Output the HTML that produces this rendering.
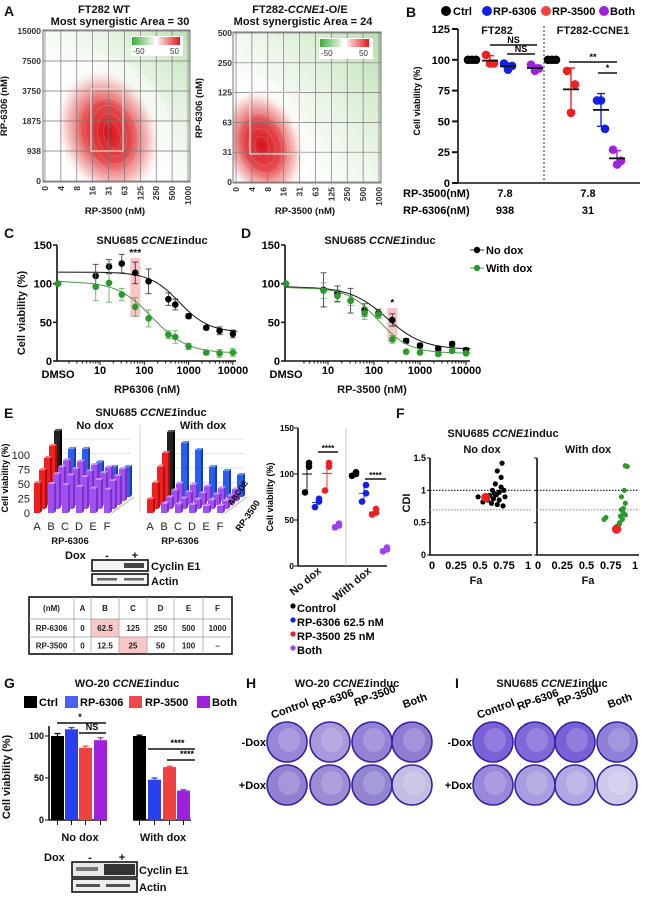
<!DOCTYPE html>
<html><head><meta charset="utf-8">
<style>
html,body{margin:0;padding:0;background:#fff;}
svg{display:block;font-family:"Liberation Sans",Arial,sans-serif;}
.t{font-weight:bold;font-size:11px;fill:#111;}
.s{font-weight:bold;font-size:9.5px;fill:#111;}
.lt{font-weight:bold;font-size:14px;fill:#111;}
.tk{font-weight:bold;font-size:9px;fill:#222;}
.ax{stroke:#111;stroke-width:1.6;fill:none;}
</style></head>
<body>
<svg id="fig" width="646" height="899" viewBox="0 0 646 899" xmlns="http://www.w3.org/2000/svg">
<defs>
 <radialGradient id="redBlob" cx="0.5" cy="0.5" r="0.5">
  <stop offset="0" stop-color="#d8101a" stop-opacity="1"/>
  <stop offset="0.45" stop-color="#e2383c" stop-opacity="0.9"/>
  <stop offset="0.75" stop-color="#f09090" stop-opacity="0.55"/>
  <stop offset="1" stop-color="#ffffff" stop-opacity="0"/>
 </radialGradient>
 <linearGradient id="greenFade" x1="1" y1="0" x2="0.35" y2="0.65">
  <stop offset="0" stop-color="#9fd092" stop-opacity="0.7"/>
  <stop offset="1" stop-color="#dff0da" stop-opacity="0"/>
 </linearGradient>
 <linearGradient id="greenFade2" x1="1" y1="0" x2="0.15" y2="0.75">
  <stop offset="0" stop-color="#9fd092" stop-opacity="0.75"/>
  <stop offset="1" stop-color="#e6f3e2" stop-opacity="0"/>
 </linearGradient>
 <linearGradient id="legG" x1="0" x2="1"><stop offset="0" stop-color="#3cae3a"/><stop offset="1" stop-color="#eef7ea"/></linearGradient>
 <linearGradient id="legR" x1="0" x2="1"><stop offset="0" stop-color="#fde6e6"/><stop offset="1" stop-color="#e01818"/></linearGradient>
 <clipPath id="clipA1"><rect x="43" y="30" width="147" height="152"/></clipPath>
 <clipPath id="clipA2"><rect x="233" y="32" width="148" height="151"/></clipPath>
</defs>

<!-- Panel A left -->
<text class="lt" x="4" y="16">A</text>
<text class="t" x="104" y="13" text-anchor="middle">FT282 WT</text>
<text class="t" x="120" y="25" text-anchor="middle">Most synergistic Area = 30</text>
<g clip-path="url(#clipA1)">
 <rect x="43" y="30" width="147" height="152" fill="#fff"/>
 <rect x="43" y="30" width="147" height="152" fill="url(#greenFade)"/>
 <ellipse cx="108" cy="130" rx="62" ry="78" fill="#fff" opacity="0.4" transform="rotate(-25 108 130)"/>
 <ellipse cx="108" cy="133" rx="52" ry="68" fill="url(#redBlob)" transform="rotate(-20 108 133)"/>
 <g fill="none" stroke="#fff" stroke-opacity="0.2" stroke-width="0.7" transform="rotate(-15 112 135)">
  <ellipse cx="112" cy="135" rx="8" ry="14"/><ellipse cx="112" cy="135" rx="14" ry="22"/><ellipse cx="112" cy="135" rx="20" ry="30"/><ellipse cx="112" cy="135" rx="26" ry="38"/>
 </g>
 <g id="gridA1"></g>
 <rect x="91" y="89" width="32" height="62" fill="none" stroke="#f6d2d2" stroke-width="1.2"/>
 <rect x="131" y="36" width="52" height="20" fill="#fff"/>
 <rect x="132" y="37" width="22" height="8" fill="url(#legG)"/>
 <rect x="158" y="37" width="22" height="8" fill="url(#legR)"/>
 <text x="133" y="54" font-size="8" fill="#333">-50</text><text x="170" y="54" font-size="8" fill="#333">50</text>
</g>
<rect x="43" y="30" width="147" height="152" fill="none" stroke="#555" stroke-width="0.8"/>
<g id="ticksA1"></g>
<text class="s" x="7" y="106" text-anchor="middle" transform="rotate(-90 7 106)">RP-6306 (nM)</text>
<text class="s" x="115" y="214" text-anchor="middle">RP-3500 (nM)</text>

<!-- Panel A right -->
<text class="t" x="300" y="13" text-anchor="middle">FT282-<tspan font-style="italic">CCNE1</tspan>-O/E</text>
<text class="t" x="303" y="25" text-anchor="middle">Most synergistic Area = 24</text>
<g clip-path="url(#clipA2)">
 <rect x="233" y="32" width="148" height="151" fill="#fff"/>
 <rect x="233" y="32" width="148" height="151" fill="url(#greenFade2)"/>
 <ellipse cx="258" cy="140" rx="50" ry="70" fill="#fff" opacity="0.4" transform="rotate(-25 258 140)"/>
 <ellipse cx="262" cy="145" rx="42" ry="58" fill="url(#redBlob)" transform="rotate(-18 262 145)"/>
 <g fill="none" stroke="#fff" stroke-opacity="0.2" stroke-width="0.7" transform="rotate(-15 262 147)">
  <ellipse cx="262" cy="147" rx="7" ry="11"/><ellipse cx="262" cy="147" rx="13" ry="19"/><ellipse cx="262" cy="147" rx="19" ry="27"/><ellipse cx="262" cy="147" rx="25" ry="35"/>
 </g>
 <g id="gridA2"></g>
 <rect x="250" y="92" width="49" height="62" fill="none" stroke="#f6d2d2" stroke-width="1.2"/>
 <rect x="319" y="38" width="54" height="21" fill="#fff"/>
 <rect x="320" y="39" width="22" height="8" fill="url(#legG)"/>
 <rect x="347" y="39" width="22" height="8" fill="url(#legR)"/>
 <text x="321" y="56" font-size="8" fill="#333">-50</text><text x="359" y="56" font-size="8" fill="#333">50</text>
</g>
<rect x="233" y="32" width="148" height="151" fill="none" stroke="#555" stroke-width="0.8"/>
<g id="ticksA2"></g>
<text class="s" x="202" y="108" text-anchor="middle" transform="rotate(-90 202 108)">RP-6306 (nM)</text>
<text class="s" x="305" y="214" text-anchor="middle">RP-3500 (nM)</text>

<!-- Panel B -->
<text class="lt" x="406" y="17">B</text>
<g font-weight="bold" font-size="11">
 <circle cx="446" cy="11" r="5" fill="#000"/><text x="453" y="15">Ctrl</text>
 <circle cx="487" cy="11" r="5" fill="#1020e8"/><text x="493" y="15">RP-6306</text>
 <circle cx="546" cy="11" r="5" fill="#f04040"/><text x="552" y="15">RP-3500</text>
 <circle cx="604" cy="11" r="5" fill="#a020e0"/><text x="610" y="15">Both</text>
</g>
<text class="t" x="497" y="34" text-anchor="middle">FT282</text>
<text class="t" x="593" y="34" text-anchor="middle">FT282-CCNE1</text>
<text x="420" y="101" font-size="9" font-weight="bold" text-anchor="middle" transform="rotate(-90 420 101)">Cell viability (%)</text>
<g id="panelB"></g>
<g font-weight="bold" font-size="11">
 <text x="403" y="197">RP-3500(nM)</text><text x="505" y="197" text-anchor="middle">7.8</text><text x="588" y="197" text-anchor="middle">7.8</text>
 <text x="403" y="214">RP-6306(nM)</text><text x="505" y="214" text-anchor="middle">938</text><text x="588" y="214" text-anchor="middle">31</text>
</g>

<!-- Panel C, D -->
<text class="lt" x="4" y="238">C</text>
<text class="t" x="152" y="244" text-anchor="middle">SNU685 <tspan font-style="italic">CCNE1</tspan>induc</text>
<text class="t" x="25" y="313" text-anchor="middle" transform="rotate(-90 25 313)">Cell viability (%)</text>
<text class="t" x="147" y="393" text-anchor="middle">RP6306 (nM)</text>
<text class="lt" x="241" y="238">D</text>
<text class="t" x="380" y="244" text-anchor="middle">SNU685 <tspan font-style="italic">CCNE1</tspan>induc</text>
<text class="t" x="372" y="393" text-anchor="middle">RP-3500 (nM)</text>
<g font-weight="bold" font-size="11">
 <line x1="470" y1="250" x2="484" y2="250" stroke="#333"/><circle cx="477" cy="250" r="3.2" fill="#000"/><text x="486" y="254">No dox</text>
 <line x1="470" y1="268" x2="484" y2="268" stroke="#5a9a5a"/><circle cx="477" cy="268" r="3.2" fill="#2a9a2a"/><text x="486" y="272">With dox</text>
</g>
<g id="panelCD"></g>

<!-- Panel E -->
<text class="lt" x="4" y="418">E</text>
<text class="t" x="151" y="416" text-anchor="middle">SNU685 <tspan font-style="italic">CCNE1</tspan>induc</text>
<text class="t" x="95" y="429" text-anchor="middle">No dox</text>
<text class="t" x="203" y="429" text-anchor="middle">With dox</text>
<text x="8" y="478" font-size="9" font-weight="bold" text-anchor="middle" transform="rotate(-90 8 478)">Cell viability (%)</text>
<g id="bars3d"></g>
<text class="s" x="70" y="544" text-anchor="middle">RP-6306</text>
<text class="s" x="180" y="544" text-anchor="middle">RP-6306</text>
<text x="232" y="506" font-size="8" font-weight="bold" transform="rotate(-55 232 506)">ABCDE</text>
<text x="240" y="532" font-size="9" font-weight="bold" transform="rotate(-55 240 532)">RP-3500</text>

<g>
 <text class="t" x="65" y="559">Dox</text><text class="t" x="107" y="559" text-anchor="middle">-</text><text class="t" x="135" y="559" text-anchor="middle">+</text>
 <rect x="92" y="560" width="56" height="11" fill="#f4f4f4" stroke="#111" stroke-width="1.6"/>
 <rect x="124" y="563" width="20" height="5" fill="#333" opacity="0.9"/>
 <rect x="92" y="574" width="56" height="11" fill="#f4f4f4" stroke="#111" stroke-width="1.6"/>
 <rect x="97" y="578" width="20" height="2.5" fill="#666"/><rect x="124" y="578" width="20" height="2.5" fill="#666"/>
 <text class="t" x="151" y="570">Cyclin E1</text><text class="t" x="151" y="585">Actin</text>
</g>
<g id="doseTable"></g>

<text x="273" y="497" font-size="9" font-weight="bold" text-anchor="middle" transform="rotate(-90 273 497)">Cell viability (%)</text>
<g id="panelEdot"></g>
<text class="t" x="322" y="572" text-anchor="end" transform="rotate(-40 322 572)">No dox</text>
<text class="t" x="372" y="572" text-anchor="end" transform="rotate(-40 372 572)">With dox</text>
<g font-weight="bold" font-size="11">
 <circle cx="293" cy="606" r="2.6" fill="#000"/><text x="297" y="612">Control</text>
 <circle cx="293" cy="620" r="2.6" fill="#1020e8"/><text x="297" y="626">RP-6306 62.5 nM</text>
 <circle cx="293" cy="634" r="2.6" fill="#f02020"/><text x="297" y="640">RP-3500 25 nM</text>
 <circle cx="293" cy="648" r="2.6" fill="#a040f0"/><text x="297" y="654">Both</text>
</g>

<!-- Panel F -->
<text class="lt" x="396" y="418">F</text>
<text class="t" x="503" y="437" text-anchor="middle">SNU685 <tspan font-style="italic">CCNE1</tspan>induc</text>
<text class="t" x="482" y="453" text-anchor="middle">No dox</text>
<text class="t" x="588" y="453" text-anchor="middle">With dox</text>
<text class="t" x="410" y="503" text-anchor="middle" transform="rotate(-90 410 503)">CDI</text>
<text class="t" x="476" y="584" text-anchor="middle">Fa</text>
<text class="t" x="588" y="584" text-anchor="middle">Fa</text>
<g id="panelF"></g>

<!-- Panel G -->
<text class="lt" x="4" y="688">G</text>
<text class="t" x="127" y="687" text-anchor="middle">WO-20 <tspan font-style="italic">CCNE1</tspan>induc</text>
<g font-weight="bold" font-size="11">
 <rect x="24" y="696" width="13" height="12" fill="#000"/><text x="39" y="706">Ctrl</text>
 <rect x="65" y="696" width="13" height="12" fill="#4a60f0"/><text x="80" y="706">RP-6306</text>
 <rect x="129" y="696" width="13" height="12" fill="#f04848"/><text x="145" y="706">RP-3500</text>
 <rect x="197" y="696" width="13" height="12" fill="#a020e0"/><text x="212" y="706">Both</text>
</g>
<text class="t" x="10" y="777" text-anchor="middle" transform="rotate(-90 10 777)">Cell viability (%)</text>
<g id="panelG"></g>
<text class="t" x="80" y="841" text-anchor="middle" font-size="12">No dox</text>
<text class="t" x="163" y="841" text-anchor="middle" font-size="12">With dox</text>
<g>
 <text class="t" x="44" y="861">Dox</text><text class="t" x="90" y="861" text-anchor="middle">-</text><text class="t" x="122" y="861" text-anchor="middle">+</text>
 <rect x="72" y="862" width="65" height="15" fill="#e8e8e8" stroke="#111" stroke-width="1.6"/>
 <rect x="76" y="867" width="22" height="4" fill="#777"/><rect x="104" y="864" width="31" height="11" fill="#333"/>
 <rect x="72" y="879" width="65" height="13" fill="#eee" stroke="#111" stroke-width="1.6"/>
 <rect x="76" y="884" width="24" height="3" fill="#555"/><rect x="106" y="884" width="24" height="3" fill="#555"/>
 <text class="t" x="139" y="874">Cyclin E1</text><text class="t" x="139" y="891">Actin</text>
</g>

<!-- Panels H, I -->
<text class="lt" x="246" y="688">H</text>
<text class="t" x="347" y="687" text-anchor="middle">WO-20 <tspan font-style="italic">CCNE1</tspan>induc</text>
<text class="lt" x="455" y="688">I</text>
<text class="t" x="552" y="687" text-anchor="middle">SNU685 <tspan font-style="italic">CCNE1</tspan>induc</text>
<g id="plates"></g>
</svg>

<script>
// ---------- DATA ----------
const heatXTicks = ['0','4','8','16','31','63','125','250','500','1000'];
const heatWtYTicks = ['0','938','1875','3750','7500','15000'];
const heatOeYTicks = ['0','31','63','125','250','500'];

const bGroups = ['Ctrl','RP-3500','RP-6306','Both','Ctrl','RP-3500','RP-6306','Both'];
const bValues = [[100,100,100],[104,97,97],[97,92,95],[96,91,93],[100,100,100],[91,57,80],[67,67,44],[27,15,18]];
const bTicks = [0,25,50,75,100,125];

const cDoses = [8,16,31,62.5,125,350,500,1000,2500,5000,10000];
const cNoDox = [110,122,126,114,103,80,73,58,43,39,35];
const cNoDoxErr = [15,9,12,14,16,8,7,3,2,5,5];
const cDox = [96,101,86,70,55,34,31,19,11,10,11];
const cDoxErr = [18,25,8,12,11,5,8,4,3,5,5];
const cDmso = [100,100];
const cFitNoDox = [115,37,620,1.3];   // top, bottom, ic50, hill
const cFitDox = [103,10,150,1.1];

const dDoses = [8,16,31,62.5,125,250,500,1000,2500,5000,10000];
const dNoDox = [92,87,78,66,62,53,26,20,16,22,14];
const dNoDoxErr = [22,10,16,8,5,8,3,3,3,3,3];
const dDox = [91,84,78,62,60,28,12,11,9,13,10];
const dDoxErr = [10,8,6,8,5,5,2,2,2,2,2];
const dDmso = [100,100];
const dFitNoDox = [96,15,190,1.1];
const dFitDox = [95,10,125,1.3];
const logTicks = [10,100,1000,10000];
const cdYTicks = [0,50,100,150];

const e3dNoDox = [[114,83,83,60,52,52],[95,70,68,62,58,55],[81,65,62,58,55,50],[67,60,58,55,50,48],[52,50,48,45,42,40]];
const e3dDox = [[112,93,81,52,45,38],[83,30,28,25,22,20],[66,25,22,20,18,16],[45,20,18,16,15,14],[24,16,15,14,12,12]];
const e3dCols = ['A','B','C','D','E','F'];
const e3dTicks = [0,25,50,75,100];

const tableHeader = ['(nM)','A','B','C','D','E','F'];
const tableRow6306 = ['RP-6306','0','62.5','125','250','500','1000'];
const tableRow3500 = ['RP-3500','0','12.5','25','50','100','–'];

const eNoDox = [[112,80,108],[73,64,70],[112,82,108],[44,42,46]];
const eWithDox = [[102,98,100],[88,70,79],[62,56,58],[20,16,18]];
const eTicks = [0,50,100,150];

const fNoDoxFa = [0.48,0.53,0.58,0.6,0.62,0.63,0.64,0.65,0.66,0.68,0.68,0.7,0.7,0.72,0.73,0.74,0.75,0.76,0.72,0.67];
const fNoDoxCdi = [0.9,0.82,0.85,0.92,0.8,1.0,0.87,0.95,1.1,0.78,1.3,0.97,0.85,1.2,1.42,0.76,1.0,0.9,1.05,0.93];
const fNoDoxRed = [0.56,0.89];
const fDoxFa = [0.68,0.7,0.8,0.82,0.84,0.85,0.86,0.87,0.88,0.88,0.89,0.9,0.9,0.92,0.9,0.86,0.84];
const fDoxCdi = [0.55,0.58,0.42,0.45,0.5,0.6,0.7,0.55,0.65,0.72,1.0,0.8,1.38,1.37,0.62,0.9,0.48];
const fDoxRed = [0.81,0.4];
const fYTicks = ['0','0.5','1','1.5'];
const fXTicks = ['0','0.25','0.5','0.75','1'];

const gNoDox = [100,108,86,95];
const gNoDoxErr = [3,2,2,3];
const gWithDox = [100,48,63,35];
const gWithDoxErr = [1,2,1,1];
const gTicks = [0,50,100];

const plateCols = ['Control','RP-6306','RP-3500','Both'];
const plateH = [['#9a86d8','#a898dc','#9582d4','#8f7cd2'],['#9280d2','#9d8cd4','#9484d0','#c4bce2']];
const plateI = [['#7c60d8','#8068d8','#7a60d6','#9080d8'],['#9a88dc','#aa9ce0','#b2a6e2','#cec8ea']];

// ---------- HELPERS ----------
const NS='http://www.w3.org/2000/svg';
function mk(tag, attrs, parent){const e=document.createElementNS(NS,tag);for(const k in attrs)e.setAttribute(k,attrs[k]);parent.appendChild(e);return e;}
function txt(str, attrs, parent){const e=mk('text',attrs,parent);e.textContent=str;return e;}

// ---------- A grids ----------
function heatGrid(gid,tid,x0,x1,y0,y1,yTicks,prefix){
  const g=document.getElementById(gid), t=document.getElementById(tid);
  const nx=heatXTicks.length, ny=yTicks.length;
  heatXTicks.forEach((lab,i)=>{
    const x=x0+i*(x1-x0)/(nx-1);
    const l=mk('line',{x1:x,x2:x,y1:y0-6,y2:y1,stroke:'#777','stroke-width':0.7},g);
    
    
    const tx=txt(lab,{x:x+3,y:y1+4,'font-size':8.5,'font-weight':'bold','text-anchor':'end',transform:`rotate(-90 ${x+3} ${y1+4})`,fill:'#333'},t);
    
    
  });
  yTicks.forEach((lab,i)=>{
    const y=y1-i*(y1-y0-2)/(ny-1)-1;
    const l=mk('line',{x1:x0-2,x2:x1+4,y1:y,y2:y,stroke:'#777','stroke-width':0.7},g);
    
    
    const tx=txt(lab,{x:x0-4,y:y+3,'font-size':8.5,'font-weight':'bold','text-anchor':'end',fill:'#333'},t);
    
    
  });
}
heatGrid('gridA1','ticksA1',45,188,30,182,heatWtYTicks,'heatmap-wt');
heatGrid('gridA2','ticksA2',236,379,32,183,heatOeYTicks,'heatmap-oe');

// ---------- B ----------
(function(){
  const g=document.getElementById('panelB');
  const yB=v=>183-v*(154/125);
  const xs=[472,490,508,535,552,571,601,617];
  const cols=['#000','#f02020','#1020e8','#a020e0','#000','#f02020','#1020e8','#a020e0'];
  const ax=mk('path',{d:`M458 ${yB(125)} V183 H640`,class:'ax','stroke-width':2.4},g);
  
  
  bTicks.forEach(v=>{
    const l=mk('line',{x1:452,x2:458,y1:yB(v),y2:yB(v),stroke:'#111','stroke-width':2},g);
    
    
    const t=txt(String(v),{x:450,y:yB(v)+4,'font-size':11,'font-weight':'bold','text-anchor':'end'},g);
    
    
  });
  const dv=mk('line',{x1:544,x2:544,y1:26,y2:183,stroke:'#333','stroke-dasharray':'2,2'},g);
  
  
  bValues.forEach((vals,i)=>{
    const m=vals.reduce((a,b)=>a+b,0)/vals.length;
    const sd=Math.sqrt(vals.reduce((a,b)=>a+(b-m)*(b-m),0)/(vals.length-1));
    if(sd>0.5){
      const e=mk('line',{x1:xs[i],x2:xs[i],y1:yB(m+sd),y2:yB(m-sd),stroke:cols[i],'stroke-width':1.4},g);
      
      
      [m+sd,m-sd].forEach(v=>{const c=mk('line',{x1:xs[i]-4,x2:xs[i]+4,y1:yB(v),y2:yB(v),stroke:cols[i],'stroke-width':1.4},g);
        
        });
    }
    vals.forEach((v,j)=>{
      const c=mk('circle',{cx:xs[i]+(j-1)*4,cy:yB(v),r:4.3,fill:cols[i]},g);
      
      
    });
    const ml=mk('line',{x1:xs[i]-8,x2:xs[i]+8,y1:yB(m),y2:yB(m),stroke:'#111','stroke-width':1.8},g);
    
    
  });
  const sig=[[490,537,45,'NS'],[507,535,54,'NS'],[569,617,62,'**'],[598,617,73,'*']];
  sig.forEach(s=>{
    const l=mk('line',{x1:s[0],x2:s[1],y1:s[2],y2:s[2],stroke:'#111','stroke-width':1.6},g);
    
    
    const t=txt(s[3],{x:(s[0]+s[1])/2,y:s[2]-2,'font-size':9,'font-weight':'bold','text-anchor':'middle'},g);
    
    
  });
})();

// ---------- C, D ----------
function doseChart(opt){
  const g=document.getElementById('panelCD');
  const y=v=>361-v*(116/150);
  const x=d=>opt.x10+(Math.log10(d)-1)*opt.dec;
  const ax=mk('path',{d:`M${opt.ax} 245 V361 H${opt.xEnd}`,class:'ax','stroke-width':1.8},g);
  
  
  cdYTicks.forEach(v=>{
    const l=mk('line',{x1:opt.ax-4,x2:opt.ax,y1:y(v),y2:y(v),stroke:'#111','stroke-width':1.5},g);
    
    
    const t=txt(String(v),{x:opt.ax-5,y:y(v)+4,'font-size':11,'font-weight':'bold','text-anchor':'end'},g);
    
    
  });
  for(let dec=1;dec<=10000;dec*=10){for(let k=1;k<10;k++){const d=dec*k;const xx=x(d);
    if(xx<opt.ax+12||xx>opt.xEnd) continue;
    const major=(k===1);
    const l=mk('line',{x1:xx,x2:xx,y1:361,y2:361+(major?4:2.5),stroke:'#111','stroke-width':1},g);
    
    }}
  logTicks.forEach(d=>{const t=txt(String(d),{x:x(d),y:374,'font-size':11,'font-weight':'bold','text-anchor':'middle'},g);
    
    });
  const dm=txt('DMSO',{x:opt.ax+1,y:378,'font-size':11,'font-weight':'bold','text-anchor':'middle'},g);
  
  
  const hx=x(opt.hl);
  const hr=mk('rect',{x:hx-5,y:opt.hlY[0],width:10,height:opt.hlY[1]-opt.hlY[0],fill:'#f08080',opacity:0.45},g);
  
  
  const st=txt(opt.star,{x:hx,y:opt.hlY[0]-2,'font-size':10,'font-weight':'bold','text-anchor':'middle'},g);
  
  
  [[opt.nd,opt.ndE,opt.fitNd,'#111','#000',opt.dm[0],'no-dox'],[opt.wd,opt.wdE,opt.fitWd,'#4a9a4a','#2a9a2a',opt.dm[1],'with-dox']].forEach(s=>{
    let d='';
    for(let i=0;i<=80;i++){const lg=Math.log10(opt.doses[0])-0.15+i*(4.1-Math.log10(opt.doses[0])+0.15)/80;const dose=Math.pow(10,lg);
      const v=s[2][1]+(s[2][0]-s[2][1])/(1+Math.pow(dose/s[2][2],s[2][3]));
      d+=(i?'L':'M')+x(dose).toFixed(1)+' '+y(v).toFixed(1);}
    const fx0=opt.ax+1, v0=s[2][0];
    d='M'+fx0+' '+y(v0).toFixed(1)+' L'+d.slice(1);
    const c=mk('path',{d:d,fill:'none',stroke:s[3],'stroke-width':1},g);
    
    
    s[0].forEach((v,i)=>{
      const xx=x(opt.doses[i]);
      const e=mk('path',{d:`M${xx} ${y(v+s[1][i])} V${y(v-s[1][i])} M${xx-3} ${y(v+s[1][i])} H${xx+3} M${xx-3} ${y(v-s[1][i])} H${xx+3}`,stroke:s[3],'stroke-width':0.9,fill:'none',opacity:0.8},g);
      
      
      const p=mk('circle',{cx:xx,cy:y(v),r:3.3,fill:s[4]},g);
      
      
    });
    const p0=mk('circle',{cx:opt.ax+1,cy:y(s[5]),r:3.3,fill:s[4]},g);
    
    
  });
}
doseChart({p:'c',ax:57,xEnd:236,x10:100,dec:44.3,doses:cDoses,nd:cNoDox,ndE:cNoDoxErr,wd:cDox,wdE:cDoxErr,fitNd:cFitNoDox,fitWd:cFitDox,dm:cDmso,hl:62.5,hlY:[258,317],star:'***'});
doseChart({p:'d',ax:285,xEnd:470,x10:328,dec:46,doses:dDoses,nd:dNoDox,ndE:dNoDoxErr,wd:dDox,wdE:dDoxErr,fitNd:dFitNoDox,fitWd:dFitDox,dm:dDmso,hl:250,hlY:[308,342],star:'*'});

// ---------- E 3D bars ----------
function bars3d(vals,ox,p){
  const g=document.getElementById('bars3d');
  const sc=0.58, dxr=5, dyr=4, cs=14, w=6;
  e3dTicks.forEach(v=>{const yy=497-v*sc;
    const l=mk('line',{x1:ox+20,x2:ox+97,y1:yy,y2:yy,stroke:'#ddd','stroke-width':0.8},g);
    
    });
  const fl=mk('path',{d:`M${ox+78} 513 L${ox+100} 497`,stroke:'#aaa','stroke-width':0.8,fill:'none'},g);
  
  
  for(let r=0;r<vals.length;r++){
    for(let c=0;c<vals[r].length;c++){
      const x=ox+(4-r)*dxr+c*cs, base=513-(4-r)*dyr, h=vals[r][c]*sc, top=base-h;
      let col, dark, light;
      if(r===0&&c===0){col='#222';dark='#000';light='#555';}
      else if(r===0){col='#2a5ef0';dark='#1a3cb0';light='#6a90ff';}
      else if(c===0){col='#f02020';dark='#b01010';light='#ff7070';}
      else {col='#a050f0';dark='#7a30c0';light='#c890ff';}
      const f=mk('rect',{x:x,y:top,width:w,height:h,fill:col},g);
      
      
      const s=mk('path',{d:`M${x+w} ${top} L${x+w+2} ${top-2} L${x+w+2} ${base-2} L${x+w} ${base}Z`,fill:dark},g);
      
      
      const t=mk('path',{d:`M${x} ${top} L${x+2} ${top-2} L${x+w+2} ${top-2} L${x+w} ${top}Z`,fill:light},g);
      
      
    }
  }
  e3dCols.forEach((lab,c)=>{const t=txt(lab,{x:ox+3+c*cs,y:530,'font-size':11,'text-anchor':'middle',fill:'#222'},g);
    
    });
}
(function(){
  const g=document.getElementById('bars3d');
  e3dTicks.forEach(v=>{const t=txt(String(v),{x:30,y:513-v*0.58+4,'font-size':11,'text-anchor':'end',fill:'#222'},g);
    
    });
  const wl=mk('line',{x1:140,x2:140,y1:425,y2:513,stroke:'#ccc','stroke-width':0.8},g);
  
  
})();
bars3d(e3dNoDox,34,'e3d-nodox');
bars3d(e3dDox,147,'e3d-withdox');

// ---------- Table ----------
(function(){
  const g=document.getElementById('doseTable');
  const cx=[29,74,91,119,147,174,203,232], ry=[597,619,637,654];
  const hl1=mk('rect',{x:91,y:619,width:28,height:18,fill:'#f8c8c8'},g);
  
  
  const hl2=mk('rect',{x:119,y:637,width:28,height:17,fill:'#f8c8c8'},g);
  
  
  const ob=mk('rect',{x:29,y:597,width:203,height:57,fill:'none',stroke:'#111','stroke-width':1.6},g);
  
  
  cx.slice(1,-1).forEach(x=>{const l=mk('line',{x1:x,x2:x,y1:597,y2:654,stroke:'#999','stroke-width':0.7},g);
    
    });
  [619,637].forEach(yy=>{const l=mk('line',{x1:29,x2:232,y1:yy,y2:yy,stroke:'#999','stroke-width':0.7},g);
    
    });
  [tableHeader,tableRow6306,tableRow3500].forEach((row,ri)=>{
    row.forEach((s,ci)=>{const t=txt(s,{x:(cx[ci]+cx[ci+1])/2,y:(ry[ri]+ry[ri+1])/2+3,'font-size':8,'font-weight':'bold','text-anchor':'middle',fill:'#222'},g);
      
      });
  });
})();

// ---------- E dot plot ----------
(function(){
  const g=document.getElementById('panelEdot');
  const y=v=>566-v*(138/150);
  const ax=mk('path',{d:'M298 428 V566 H387',class:'ax','stroke-width':1.2},g);
  
  
  eTicks.forEach(v=>{
    const l=mk('line',{x1:294,x2:298,y1:y(v),y2:y(v),stroke:'#111'},g);
    
    
    const t=txt(String(v),{x:294,y:y(v)+3,'font-size':8.5,'font-weight':'bold','text-anchor':'end'},g);
    
    
  });
  const dv=mk('line',{x1:346,x2:346,y1:428,y2:566,stroke:'#bbb','stroke-width':0.8},g);
  
  
  const cols=['#000','#1020e8','#f02020','#a040f0'];
  [[eNoDox,[307,317,327,337]],[eWithDox,[354,364,374,385]]].forEach(grp=>{
    grp[0].forEach((vals,i)=>{
      const xx=grp[1][i];
      const m=vals.reduce((a,b)=>a+b,0)/vals.length;
      const mn=Math.min(...vals), mxv=Math.max(...vals);
      const e=mk('path',{d:`M${xx} ${y(mxv)} V${y(mn)} M${xx-5} ${y(m)} H${xx+5}`,stroke:cols[i],'stroke-width':0.9,fill:'none'},g);
      
      
      vals.forEach((v,j)=>{const c=mk('circle',{cx:xx+(j===1?-2:2),cy:y(v),r:3.3,fill:cols[i]},g);
        
        });
    });
  });
  [[318,338,452],[365,386,479]].forEach(s=>{
    const l=mk('line',{x1:s[0],x2:s[1],y1:s[2],y2:s[2],stroke:'#111','stroke-width':1.4},g);
    
    
    const t=txt('****',{x:(s[0]+s[1])/2,y:s[2]-1,'font-size':8,'font-weight':'bold','text-anchor':'middle'},g);
    
    
  });
})();

// ---------- F ----------
(function(){
  const g=document.getElementById('panelF');
  const y=v=>555-v*(97/1.5);
  [[432,528,430,fNoDoxFa,fNoDoxCdi,fNoDoxRed,'#000','nodox',true],[538,635,537,fDoxFa,fDoxCdi,fDoxRed,'#2a9a2a','withdox',false]].forEach(s=>{
    const x=f=>s[0]+f*(s[1]-s[0]);
    const ax=mk('path',{d:`M${s[2]} 458 V555 H${s[1]+4}`,class:'ax','stroke-width':1.6},g);
    
    
    fYTicks.forEach(lab=>{const v=parseFloat(lab);
      const l=mk('line',{x1:s[2]-3,x2:s[2],y1:y(v),y2:y(v),stroke:'#111'},g);
      
      
      if(s[8]){const t=txt(lab,{x:s[2]-4,y:y(v)+3,'font-size':9,'font-weight':'bold','text-anchor':'end'},g);
        
        }
    });
    fXTicks.forEach(lab=>{const t=txt(lab,{x:x(parseFloat(lab)),y:569,'font-size':11,'font-weight':'bold','text-anchor':'middle'},g);
      
      });
    const l1=mk('line',{x1:s[2],x2:s[1]+4,y1:y(1),y2:y(1),stroke:'#111','stroke-dasharray':'1.5,1.5','stroke-width':1.2},g);
    
    
    const l2=mk('line',{x1:s[2],x2:s[1]+4,y1:y(0.7),y2:y(0.7),stroke:'#999','stroke-dasharray':'1.5,1.5','stroke-width':1.2},g);
    
    
    s[3].forEach((fa,i)=>{const c=mk('circle',{cx:x(fa),cy:y(s[4][i]),r:2.6,fill:s[6]},g);
      
      });
    const r=mk('circle',{cx:x(s[5][0]),cy:y(s[5][1]),r:4.6,fill:'#f02020'},g);
    
    
  });
})();

// ---------- G ----------
(function(){
  const g=document.getElementById('panelG');
  const y=v=>820-v*0.84;
  const cols=['#000','#2a40f0','#f04040','#a020e0'];
  const nx=[51,65,79,94], wx=[133,148,163,177], bw=13;
  const ax=mk('path',{d:'M49 726 V820 M49 820 H107 M133 820 H191',class:'ax','stroke-width':1.5},g);
  
  
  gTicks.forEach(v=>{
    const l=mk('line',{x1:45,x2:49,y1:y(v),y2:y(v),stroke:'#111'},g);
    
    
    const t=txt(String(v),{x:44,y:y(v)+3,'font-size':9,'font-weight':'bold','text-anchor':'end'},g);
    
    
  });
  [[gNoDox,gNoDoxErr,nx],[gWithDox,gWithDoxErr,wx]].forEach(s=>{
    s[0].forEach((v,i)=>{
      const b=mk('rect',{x:s[2][i],y:y(v),width:bw,height:v*0.84,fill:cols[i]},g);
      
      
      const cx=s[2][i]+bw/2;
      const e=mk('path',{d:`M${cx} ${y(v)} V${y(v+s[1][i])} M${cx-3} ${y(v+s[1][i])} H${cx+3}`,stroke:cols[i],'stroke-width':1.2,fill:'none'},g);
      
      
      const tk=mk('line',{x1:cx,x2:cx,y1:820,y2:825,stroke:'#111'},g);
      
      
    });
  });
  [[57,106,723,'*'],[79,106,733,'NS'],[148,195,749,'****'],[167,195,760,'****']].forEach(s=>{
    const l=mk('line',{x1:s[0],x2:s[1],y1:s[2],y2:s[2],stroke:'#111','stroke-width':1.6},g);
    
    
    const lx=s[3]==='NS'?92:(s[3]==='*'?80:(s[1]+s[0])/2+6);
    const t=txt(s[3],{x:lx,y:s[2]-3,'font-size':9,'font-weight':'bold','text-anchor':'middle'},g);
    
    
  });
})();

// ---------- H, I plates ----------
function plates(xs,colors,labX,tag){
  const g=document.getElementById('plates');
  const ys=[742,785];
  ['-Dox','+Dox'].forEach((lab,r)=>{
    const t=txt(lab,{x:labX,y:ys[r]+4,'font-size':11,'font-weight':'bold','text-anchor':'end'},g);
    
    
    xs.forEach((x,c)=>{
      const p=mk('ellipse',{cx:x,cy:ys[r],rx:20,ry:20,fill:colors[r][c],stroke:'#3a20a0','stroke-width':1.6},g);
      
      
      const h=mk('ellipse',{cx:x+2,cy:ys[r]-2,rx:11,ry:12,fill:'#ffffff',opacity:0.18},g);
      
      
    });
  });
  plateCols.forEach((lab,c)=>{
    const x=xs[c]+4, yy=[712,703,699,704][c];
    const t=txt(lab,{x:x,y:yy,'font-size':11,'font-weight':'bold','text-anchor':'middle',transform:`rotate(-20 ${x} ${yy})`},g);
    
    
  });
}
plates([287,330,372,412],plateH,266,'h');
plates([493,535,575,617],plateI,472,'i');
</script>
</body></html>
